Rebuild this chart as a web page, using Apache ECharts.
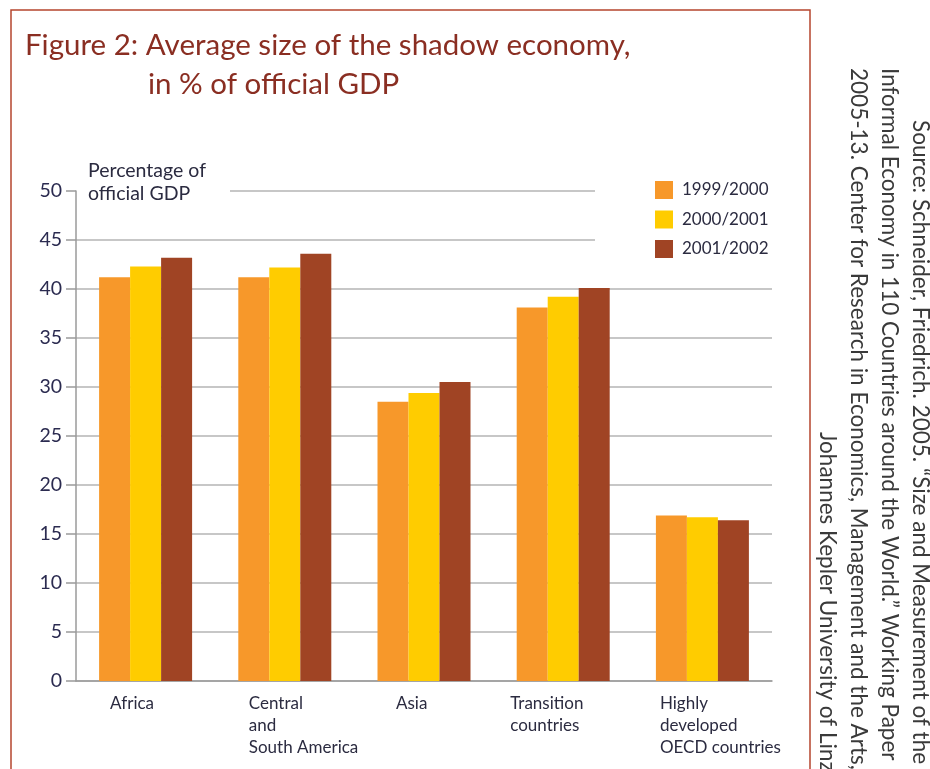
<!DOCTYPE html>
<html>
<head>
<meta charset="utf-8">
<script src="https://cdn.jsdelivr.net/npm/echarts@6/dist/echarts.min.js"></script>
<style>
html,body{margin:0;padding:0;background:#fff;}
#chart{width:930px;height:769px;}
</style>
</head>
<body>
<div id="chart"></div>
<script>
// ---- data ----
var categories = ['Africa', 'Central\nand\nSouth America', 'Asia', 'Transition\ncountries', 'Highly\ndeveloped\nOECD countries'];
var seriesNames = ['1999/2000', '2000/2001', '2001/2002'];
var values1999 = [41.2, 41.2, 28.5, 38.1, 16.9];
var values2000 = [42.3, 42.2, 29.4, 39.2, 16.7];
var values2001 = [43.2, 43.6, 30.5, 40.1, 16.4];
var yTicks = [0, 5, 10, 15, 20, 25, 30, 35, 40, 45, 50];
var titleLine1 = 'Figure 2: Average size of the shadow economy,';
var titleLine2 = 'in % of official GDP';
var yName = 'Percentage of\nofficial GDP';
var sourceLines = [
  'Source: Schneider, Friedrich. 2005. \u201cSize and Measurement of the',
  'Informal Economy in 110 Countries around the World.\u201d Working Paper',
  '2005-13. Center for Research in Economics, Management and the Arts,',
  'Johannes Kepler University of Linz'
];

// ---- style ----
var FONT = 'Lato';
var colors = ['#F7982A', '#FFCC00', '#A04424'];
var labelWidths = [71, 72, 56, 106, 85];
var sourceX = [920, 889, 858, 827];
var sourceY = [120, 68, 68, 432];

var rich = {};
labelWidths.forEach(function (w, i) {
  rich['w' + i] = {width: w, align: 'left', fontFamily: FONT, fontSize: 17, lineHeight: 22, color: '#2b2b40'};
});

var chart = echarts.init(document.getElementById('chart'), null, {renderer: 'canvas'});

var graphics = [{
  type: 'rect',
  shape: {x: 11, y: 10, width: 799, height: 820},
  style: {fill: 'none', stroke: '#B5452E', lineWidth: 1.5},
  silent: true, z: 100
}];
sourceLines.forEach(function (t, i) {
  graphics.push({
    type: 'text', x: sourceX[i], y: sourceY[i], rotation: -Math.PI / 2,
    style: {text: t, fontFamily: FONT, fontSize: 22.5, fill: '#3a3a3a', textAlign: 'left', textVerticalAlign: 'middle'},
    z: 100
  });
});

var allSeries = [values1999, values2000, values2001].map(function (vals, i) {
  return {
    name: seriesNames[i], type: 'bar', data: vals,
    barWidth: 31, barGap: '0%',
    itemStyle: {color: colors[i]},
    emphasis: {disabled: true}
  };
});

chart.setOption({
  animation: false,
  backgroundColor: '#fff',
  title: [
    {text: titleLine1, left: 25, top: 30, padding: 0, textStyle: {fontFamily: FONT, fontSize: 29.5, fontWeight: 'normal', color: '#8A2E22'}},
    {text: titleLine2, left: 148, top: 69, padding: 0, textStyle: {fontFamily: FONT, fontSize: 29.5, fontWeight: 'normal', color: '#8A2E22'}}
  ],
  grid: {left: 76, right: 158, top: 191, bottom: 88, containLabel: false},
  legend: {
    orient: 'vertical', left: 595, top: 176,
    padding: [5, 12, 5, 60],
    backgroundColor: '#fff',
    itemWidth: 18, itemHeight: 18, itemGap: 11.5,
    icon: 'rect',
    data: seriesNames,
    textStyle: {fontFamily: FONT, fontSize: 17, color: '#2b2b40', padding: [0, 0, 0, 4]}
  },
  xAxis: {
    type: 'category', data: categories,
    axisLine: {show: true, lineStyle: {color: '#9a9a9a', width: 1.5}},
    axisTick: {show: false},
    axisLabel: {
      interval: 0, margin: 12, align: 'center', verticalAlign: 'top',
      formatter: function (val, idx) {
        return val.split('\n').map(function (l) { return '{w' + idx + '|' + l + '}'; }).join('\n');
      },
      rich: rich
    },
    splitLine: {show: false}
  },
  yAxis: {
    type: 'value', min: 0, max: 50, interval: 5,
    name: yName, nameLocation: 'end', nameGap: -18,
    nameTextStyle: {
      fontFamily: FONT, fontSize: 19.5, lineHeight: 23, color: '#2b2b40',
      align: 'left', verticalAlign: 'bottom',
      backgroundColor: '#fff', padding: [0, 24, 4, 12]
    },
    axisLine: {show: true, lineStyle: {color: '#9a9a9a', width: 1.5}},
    axisTick: {show: true, length: 10, lineStyle: {color: '#9a9a9a', width: 1.5}},
    axisLabel: {
      margin: 14, fontFamily: FONT, fontSize: 19.5, color: '#2b2b50',
      formatter: function (v) { return yTicks.indexOf(v) >= 0 ? String(v) : ''; }
    },
    splitLine: {show: true, lineStyle: {color: '#b4b4b4', width: 1.5}}
  },
  series: allSeries,
  graphic: graphics
});
</script>
</body>
</html>
